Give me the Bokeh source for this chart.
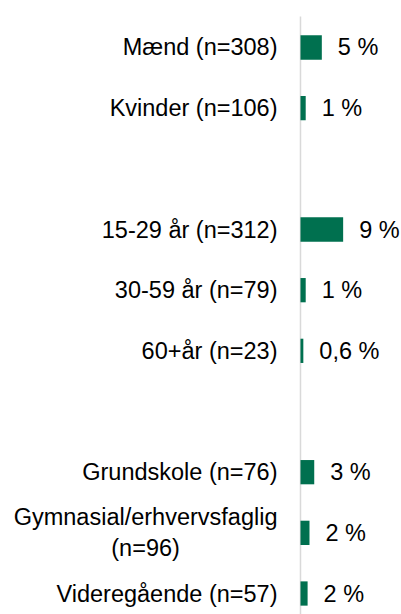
from bokeh.plotting import figure
from bokeh.models import ColumnDataSource, Range1d
from bokeh.core.properties import value
from bokeh.embed import file_html
from bokeh.resources import INLINE

labels = ["Mænd (n=308)", "Kvinder (n=106)", "15-29 år (n=312)", "30-59 år (n=79)",
          "60+år (n=23)", "Grundskole (n=76)", "Gymnasial/erhvervsfaglig\n(n=96)",
          "Videregående (n=57)"]
positions = [0, 1, 3, 4, 5, 7, 8, 9]
values = [4.5, 1.1, 9.0, 1.1, 0.6, 2.9, 1.9, 1.5]
value_labels = ["5 %", "1 %", "9 %", "1 %", "0,6 %", "3 %", "2 %", "2 %"]

src = ColumnDataSource(dict(y=positions, v=values, lab=labels, vl=value_labels,
                            zero=[0] * len(values)))

p = figure(width=401, height=614, output_backend="svg", toolbar_location=None,
           x_range=Range1d(-63.29, 21.31), y_range=Range1d(9.346, -0.7747),
           min_border=0, min_border_left=0, min_border_right=0,
           min_border_top=0, min_border_bottom=0)
p.axis.visible = False
p.grid.visible = False
p.outline_line_color = None
p.background_fill_color = "white"
p.border_fill_color = "white"

p.segment(x0=0, y0=-0.511, x1=0, y1=9.4, line_color="#d9d9d9", line_width=1.5)

p.hbar(y="y", left="zero", right="v", height=0.4, source=src,
       fill_color="#00704F", line_color=None)

p.text(x="zero", y="y", text="lab", source=src, x_offset=-23,
       anchor="center_right", text_align="center", text_baseline="middle",
       text_font=value("Liberation Sans"), text_font_size="23.5px",
       text_color="#000000", text_line_height=1.2)

p.text(x="v", y="y", text="vl", source=src, x_offset=16,
       text_align="left", text_baseline="middle",
       text_font=value("Liberation Sans"), text_font_size="23.5px",
       text_color="#000000")

open("out.html", "w").write(file_html(p, INLINE))
